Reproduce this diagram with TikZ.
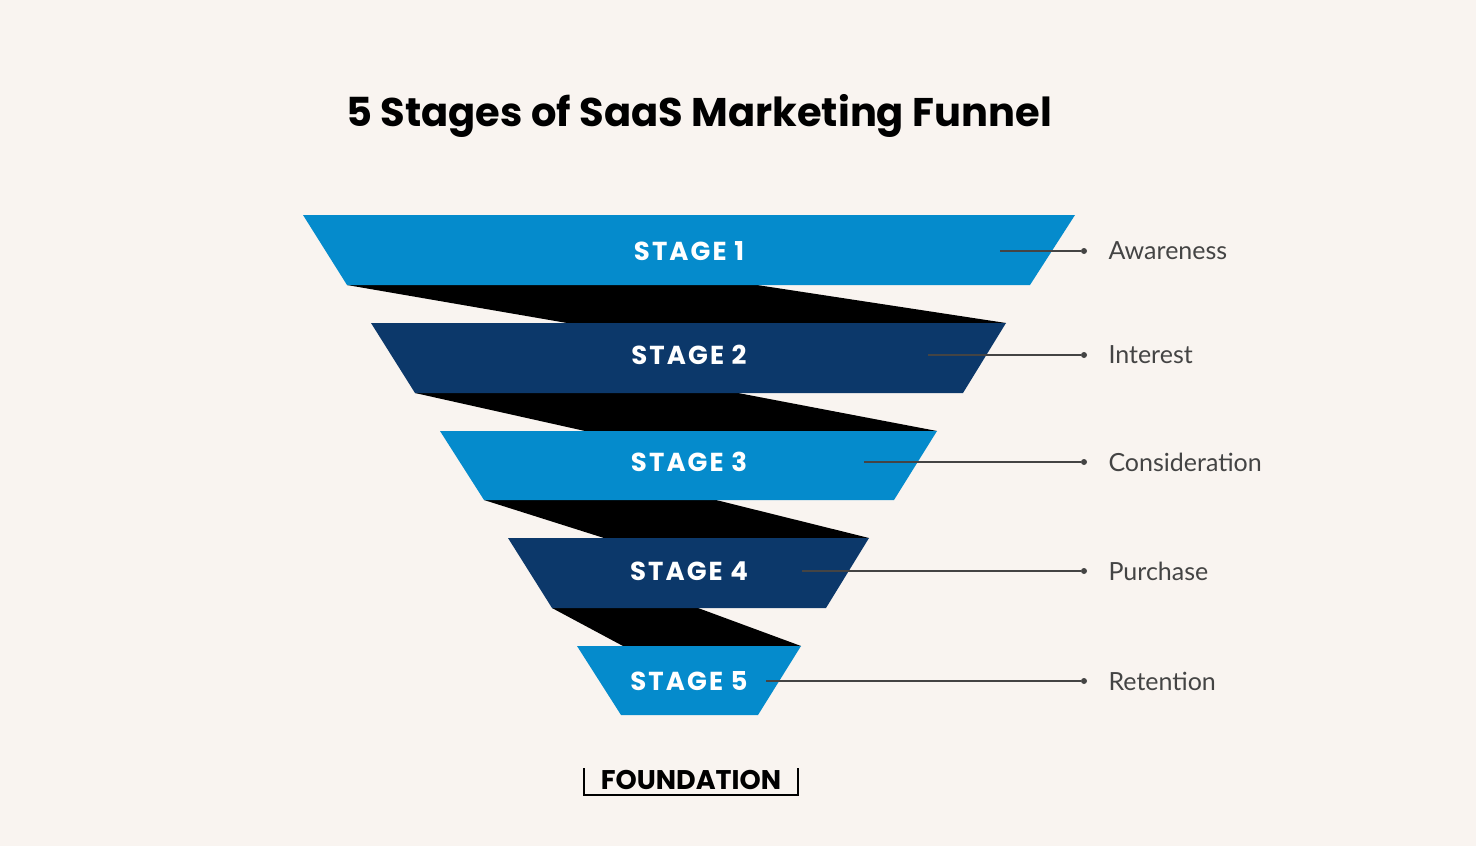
\documentclass[tikz,border=0pt]{standalone}
\usepackage{fontspec}
\setmainfont{Poppins}
\newfontfamily\lab{Lato}
\definecolor{bg}{HTML}{F9F4F0}
\definecolor{lb}{HTML}{058BCC}
\definecolor{nv}{HTML}{0C386A}
\definecolor{gl}{HTML}{444444}
\begin{document}
\begin{tikzpicture}[x=1pt,y=-1pt,
  stg/.style={text=white,font=\fontsize{26}{28}\selectfont\bfseries\addfontfeature{LetterSpace=8}},
  lbl/.style={anchor=west,text=gl,font=\lab\fontsize{25}{28}\selectfont},
  ln/.style={draw=gl,line width=1.2pt},
  dot/.style={circle,fill=gl,inner sep=0pt,minimum size=6pt}]
\fill[bg] (0,0) rectangle (1476,846);
\useasboundingbox (0,0) rectangle (1476,846);
\node[font=\fontsize{40}{44}\selectfont\bfseries] (title) at (699,116) {5 Stages of SaaS Marketing Funnel};
% connectors (black)
\fill[black] (347,285)--(757,285)--(1006,323)--(567,323)--cycle;
\fill[black] (415,393)--(738,393)--(937,431)--(585,431)--cycle;
\fill[black] (484,500)--(716,500)--(869,538)--(604,538)--cycle;
\fill[black] (552,608)--(698,608)--(801,646)--(623,646)--cycle;
% stages
\fill[lb] (303,215)--(1075,215)--(1030,285)--(347,285)--cycle;
\fill[nv] (371,323)--(1006,323)--(963,393)--(415,393)--cycle;
\fill[lb] (440,431)--(937,431)--(894,500)--(484,500)--cycle;
\fill[nv] (508,538)--(869,538)--(826,608)--(552,608)--cycle;
\fill[lb] (577,646)--(801,646)--(758,715)--(621,715)--cycle;
\node[stg] (s1) at (689,251) {STAGE 1};
\node[stg] (s2) at (689,355) {STAGE 2};
\node[stg] (s3) at (689,462) {STAGE 3};
\node[stg] (s4) at (689,571) {STAGE 4};
\node[stg] (s5) at (689,681) {STAGE 5};
\foreach \i/\xa/\y/\t in {1/1000/251/Awareness,2/928/355/Interest,3/864/462/Consideration,4/802/571/Purchase,5/766/681/Retention}{
  \coordinate (a\i) at (\xa,\y);
  \node[dot] (d\i) at (1084,\y) {};
  \draw[ln] (a\i) -- (d\i);
  \node[lbl] (l\i) at (1105,\y) {\t};
}
\node[font=\fontsize{27}{30}\selectfont\bfseries] (logo) at (691,780) {FOUNDATION};
\draw[line width=2pt] (584,768)--(584,795)--(798,795)--(798,768);
\end{tikzpicture}
\end{document}
